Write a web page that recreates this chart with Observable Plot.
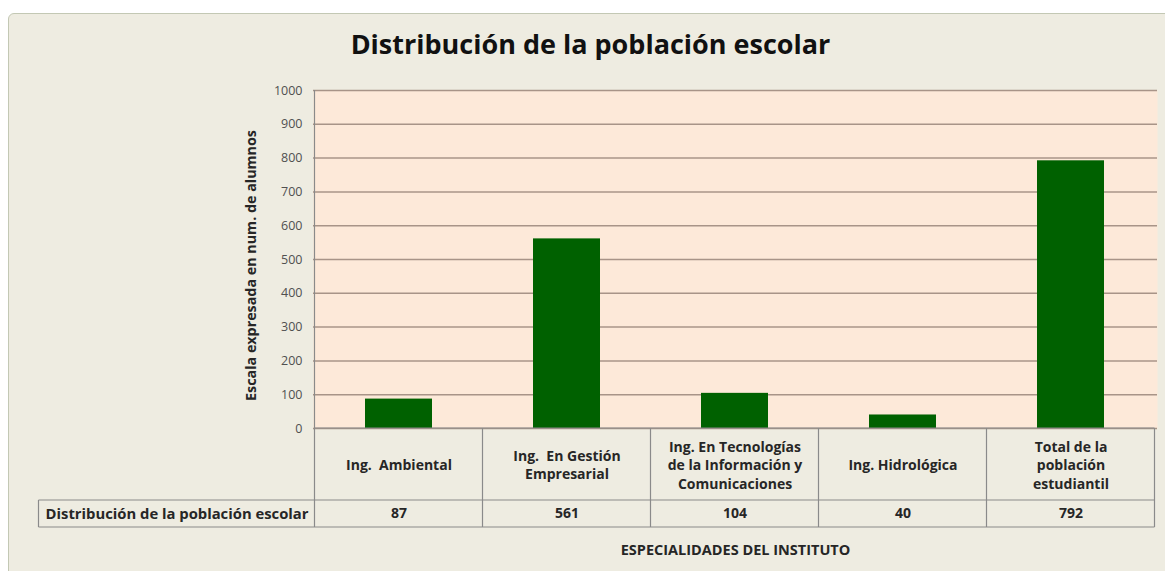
<!DOCTYPE html>
<html><head><meta charset="utf-8">
<script src="https://cdn.jsdelivr.net/npm/d3@7"></script>
<script src="https://cdn.jsdelivr.net/npm/@observablehq/plot@0.6"></script>
<style>
body{margin:0;background:#fff;font-family:"Open Sans",sans-serif;}
#wrap{position:relative;width:1165px;height:571px;overflow:hidden;}
#bg{position:absolute;left:8px;top:13px;width:1170px;height:570px;background:#eeece1;border:1px solid #c3c8b4;border-radius:6px;}
#title{position:absolute;left:8px;width:1165px;top:25px;text-align:center;font:bold 27px "Open Sans",sans-serif;color:#111;}
#chart{position:absolute;left:0;top:0;}
</style></head><body>
<div id="wrap"><div id="bg"></div><div id="title">Distribución de la población escolar</div><div id="chart"></div></div>
<script>
const categories = ["Ing. Ambiental","Ing. En Gestión Empresarial","Ing. En Tecnologías de la Información y Comunicaciones","Ing. Hidrológica","Total de la población estudiantil"];
const labels = ["Ing.  Ambiental","Ing.  En Gestión\nEmpresarial","Ing. En Tecnologías\nde la Información y\nComunicaciones","Ing. Hidrológica","Total de la\npoblación\nestudiantil"];
const values = [87, 561, 104, 40, 792];
const yTicks = [0,100,200,300,400,500,600,700,800,900,1000];
const rowLabel = "Distribución de la población escolar";
const yTitle = "Escala expresada en num. de alumnos";
const xTitle = "ESPECIALIDADES DEL INSTITUTO";

const data = categories.map((c,i)=>({cat:c, label:labels[i], value:values[i]}));
const txt = {fontWeight:"bold", fontSize:14, fill:"#262626", lineAnchor:"middle"};

const plot = Plot.plot({
  width:1165, height:571, marginTop:90, marginBottom:143, marginLeft:313, marginRight:8,
  style:{background:"transparent", fontFamily:"'Open Sans', sans-serif", fontSize:"12.5px", color:"#505050"},
  x:{domain:categories, paddingInner:0.6, paddingOuter:0.3, axis:null},
  y:{domain:[0,1000], ticks:yTicks, tickFormat:d=>String(d), tickSize:0, tickPadding:11, label:null},
  marks:[
    Plot.frame({fill:"#fde9d9", stroke:null}),
    Plot.ruleY(yTicks, {stroke:"#a89488", strokeWidth:1.5}),
    Plot.barY(data, {x:"cat", y:"value", fill:"#006100"}),
    Plot.text(data, {x:"cat", text:"label", frameAnchor:"bottom", dy:36, lineHeight:1.3, ...txt}),
    Plot.text(data, {x:"cat", text:d=>String(d.value), frameAnchor:"bottom", dy:85.5, ...txt}),
    Plot.text([rowLabel], {frameAnchor:"bottom-left", textAnchor:"end", dx:-5, dy:85.5, ...txt, fontSize:14.8}),
    Plot.text([xTitle], {frameAnchor:"bottom", dy:122, ...txt, fontSize:14.5}),
    Plot.text([yTitle], {frameAnchor:"left", rotate:-90, textAnchor:"middle", dx:-62, dy:6, ...txt, fontSize:14.3})
  ]
});
document.getElementById("chart").appendChild(plot);

const sx = plot.scale("x"), sy = plot.scale("y");
const gap = sx.step - sx.bandwidth;
const edges = categories.map(c => sx.apply(c) - gap/2);
edges.push(edges[edges.length-1] + sx.step);
const y0 = sy.apply(0), yTop = sy.apply(1000);
const r1 = y0 + 72, r2 = y0 + 99, xl = edges[0] - 276, xr = edges[edges.length-1];
const g = d3.select(plot).append("g").attr("stroke","#8a8a8a").attr("stroke-width",1.2).attr("fill","none");
const seg = (x1,y1,x2,y2) => g.append("line").attr("x1",x1).attr("y1",y1).attr("x2",x2).attr("y2",y2);
seg(edges[0], yTop, edges[0], r2);
edges.slice(1).forEach(e => seg(e, y0, e, r2));
seg(edges[0], y0, xr, y0);
seg(xl, r1, xr, r1);
seg(xl, r2, xr, r2);
seg(xl, r1, xl, r2);
</script>
</body></html>
